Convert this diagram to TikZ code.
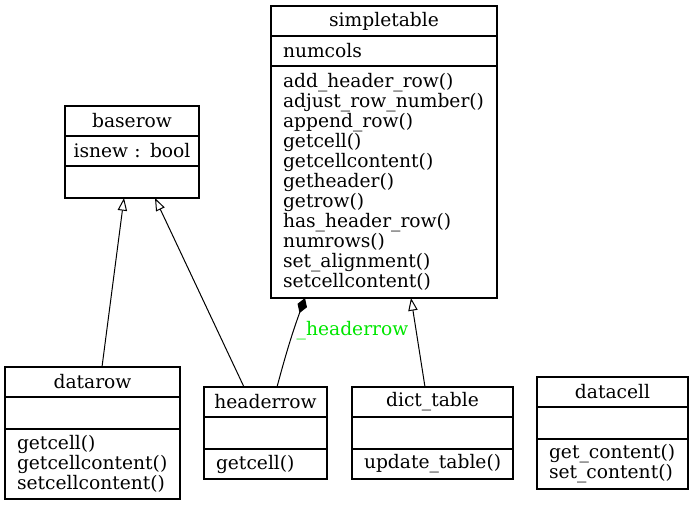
\documentclass[tikz,border=0pt]{standalone}
\usepackage{fontspec}
\setmainfont{DejaVu Serif}
\usepackage{tikz}
\usetikzlibrary{arrows.meta, positioning, calc}
\definecolor{labelgreen}{RGB}{0,230,0}
\newcommand{\umlfont}{\fontsize{14}{15}\selectfont}

\begin{document}
\begin{tikzpicture}[x=0.75pt, y=-0.75pt,
    classname/.style={draw, line width=0.8pt, outer sep=0pt, inner sep=0pt,
        minimum width=#1, minimum height=22.5pt, font=\umlfont},
    classpart/.style={draw, line width=0.8pt, outer sep=0pt, inner xsep=9pt, inner ysep=0pt,
        text width=#1, align=left, minimum height=22.5pt, font=\umlfont},
    emptypart/.style={classpart=#1, minimum height=24pt},
    inherit/.style={-{Triangle[open, length=9.5pt, width=7pt]}, line width=0.75pt},
    compose/.style={{Diamond[length=12pt, width=7.5pt]}-, line width=0.75pt},
    rolelabel/.style={font=\umlfont, text=labelgreen, inner sep=2pt}
]
    \useasboundingbox (0,0) rectangle (693,507);

    % simpletable
    \node[classname=169.5pt, anchor=north west] (st) at (271,6) {simpletable};
    \node[classpart=151.5pt, below=0pt of st] (st-attr) {numcols};
    \node[classpart=151.5pt, minimum height=174pt, below=0pt of st-attr] (st-ops) {add\_header\_row()\\adjust\_row\_number()\\append\_row()\\getcell()\\getcellcontent()\\getheader()\\getrow()\\has\_header\_row()\\numrows()\\set\_alignment()\\setcellcontent()};

    % baserow
    \node[classname=100.5pt, anchor=north west] (br) at (65,106) {baserow};
    \node[classpart=98.5pt, inner xsep=1pt, align=center, below=0pt of br] (br-attr) {isnew : bool};
    \node[emptypart=82.5pt, below=0pt of br-attr] (br-ops) {};

    % datarow
    \node[classname=131.25pt, anchor=north west] (dr) at (5,367) {datarow};
    \node[emptypart=113.25pt, below=0pt of dr] (dr-attr) {};
    \node[classpart=113.25pt, minimum height=52.5pt, below=0pt of dr-attr] (dr-ops) {getcell()\\getcellcontent()\\setcellcontent()};

    % headerrow
    \node[classname=92.25pt, anchor=north west] (hr) at (204,387) {headerrow};
    \node[emptypart=74.25pt, below=0pt of hr] (hr-attr) {};
    \node[classpart=74.25pt, below=0pt of hr-attr] (hr-ops) {getcell()};

    % dict_table
    \node[classname=120.75pt, anchor=north west] (dt) at (352,387) {dict\_table};
    \node[emptypart=102.75pt, below=0pt of dt] (dt-attr) {};
    \node[classpart=102.75pt, below=0pt of dt-attr] (dt-ops) {update\_table()};

    % datacell
    \node[classname=113.25pt, anchor=north west] (dc) at (537,377) {datacell};
    \node[emptypart=95.25pt, below=0pt of dc] (dc-attr) {};
    \node[classpart=95.25pt, minimum height=37.5pt, below=0pt of dc-attr] (dc-ops) {get\_content()\\set\_content()};

    % inheritance
    \draw[inherit] ($(dr.north)+(9.5,0)$) -- ($(br-ops.south)+(-8,0)$);
    \draw[inherit] ($(hr.north)+(-21.5,0)$) -- ($(br-ops.south)+(23,0)$);
    \draw[inherit] ($(dt.north)+(-7.5,0)$) -- ($(st-ops.south)+(27,0)$);

    % composition
    \draw[compose] ($(st-ops.south)+(-79,0)$) to[out=250, in=75]
        node[rolelabel, pos=0.36, anchor=west] {\_headerrow} ($(hr.north)+(11.5,0)$);
\end{tikzpicture}
\end{document}
